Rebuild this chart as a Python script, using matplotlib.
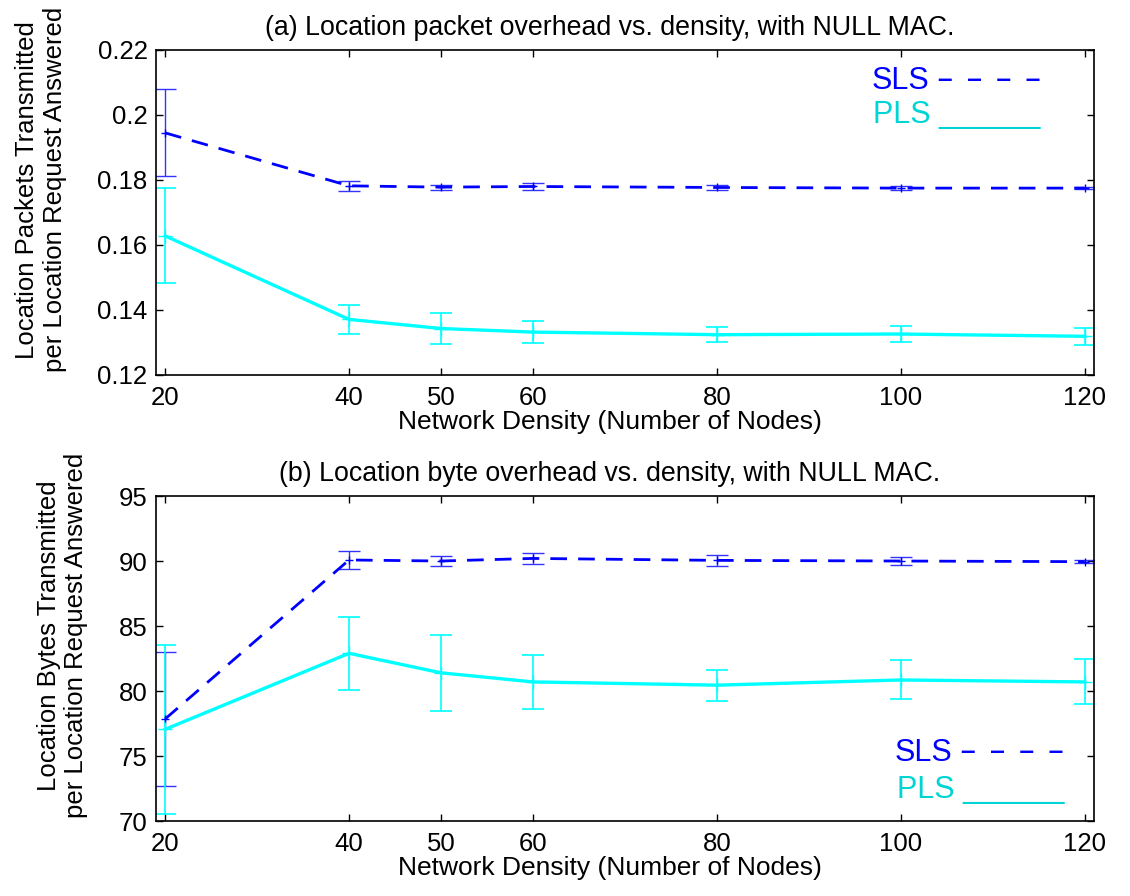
import matplotlib
matplotlib.use('Agg')
import matplotlib.pyplot as plt

plt.rcParams['font.family'] = ['Liberation Sans', 'DejaVu Sans']

# network density (number of nodes)
nodes = [20, 40, 50, 60, 80, 100, 120]

# (a) location packets per location request answered
sls_pkt = [0.1945, 0.1782, 0.1778, 0.1780, 0.1777, 0.1775, 0.1775]
sls_pkt_err = [0.0134, 0.0015, 0.0008, 0.0010, 0.0007, 0.0005, 0.0004]
pls_pkt = [0.1628, 0.1371, 0.1343, 0.1332, 0.1324, 0.1326, 0.1319]
pls_pkt_err = [0.0146, 0.0044, 0.0047, 0.0035, 0.0024, 0.0025, 0.0027]

# (b) location bytes per location request answered
sls_byte = [77.85, 90.08, 90.0, 90.2, 90.05, 90.0, 89.95]
sls_byte_err = [5.15, 0.70, 0.40, 0.40, 0.42, 0.30, 0.10]
pls_byte = [77.05, 82.9, 81.4, 80.7, 80.45, 80.85, 80.7]
pls_byte_err = [6.5, 2.8, 2.9, 2.1, 1.18, 1.5, 1.73]

blue = '#0000ff'
cyan = '#00ffff'
cyan_text = '#00d4d4'

fig = plt.figure(figsize=(11.3, 8.96), dpi=100)
ax1 = fig.add_axes([0.138, 0.5815, 0.830, 0.3627])
ax2 = fig.add_axes([0.138, 0.0837, 0.830, 0.3627])


def draw(ax, sls, sls_err, pls, pls_err, title, ylabel):
    ax.errorbar(nodes, sls, yerr=sls_err, color=blue, linestyle=(0, (6, 4)),
                linewidth=2, marker='+', markersize=6, ecolor='#3333ff',
                elinewidth=1, capsize=8, capthick=1)
    ax.errorbar(nodes, pls, yerr=pls_err, color=cyan, linestyle='-',
                linewidth=2.4, marker='+', markersize=10, ecolor=cyan,
                elinewidth=1.2, capsize=8, capthick=1.2)
    ax.set_xlim(19, 121)
    ax.set_xticks(nodes)
    ax.tick_params(direction='in', top=True, right=True, length=5,
                   width=1, labelsize=18.5)
    ax.tick_params(axis='x', pad=8)
    ax.tick_params(axis='y', pad=6)
    for s in ax.spines.values():
        s.set_linewidth(1.2)
    ax.set_xlabel('Network Density (Number of Nodes)', fontsize=19, labelpad=0)
    ax.xaxis.label.set_x(0.484)
    ax.set_ylabel(ylabel, fontsize=18.5, labelpad=22)
    ax.yaxis.label.set_y(0.57)
    ax.set_title(title, fontsize=19.3, pad=11, x=0.484)


def key(ax, x, y_sls, y_pls):
    # text key as in the original: name followed by a line sample
    t1 = ax.text(x, y_sls, 'SLS', transform=ax.transAxes, color=blue,
                 fontsize=22)
    ax.annotate('–  –  –  –', xy=(1, 0), xycoords=t1, xytext=(6, 3),
                textcoords='offset points', color=blue, fontsize=19,
                fontweight='bold', va='bottom', ha='left')
    ax.text(x + 0.002, y_pls, 'PLS ______', transform=ax.transAxes,
            color=cyan_text, fontsize=22)


draw(ax1, sls_pkt, sls_pkt_err, pls_pkt, pls_pkt_err,
     '(a) Location packet overhead vs. density, with NULL MAC.',
     'Location Packets Transmitted\nper Location Request Answered')
ax1.set_ylim(0.12, 0.22)
ax1.set_yticks([0.12, 0.14, 0.16, 0.18, 0.2, 0.22])
ax1.set_yticklabels(['0.12', '0.14', '0.16', '0.18', '0.2', '0.22'])
key(ax1, 0.763, 0.88, 0.775)

draw(ax2, sls_byte, sls_byte_err, pls_byte, pls_byte_err,
     '(b) Location byte overhead vs. density, with NULL MAC.',
     'Location Bytes Transmitted\nper Location Request Answered')
ax2.set_ylim(70, 95)
ax2.set_yticks([70, 75, 80, 85, 90, 95])
key(ax2, 0.788, 0.185, 0.07)

fig.savefig('out.png', dpi=100)
